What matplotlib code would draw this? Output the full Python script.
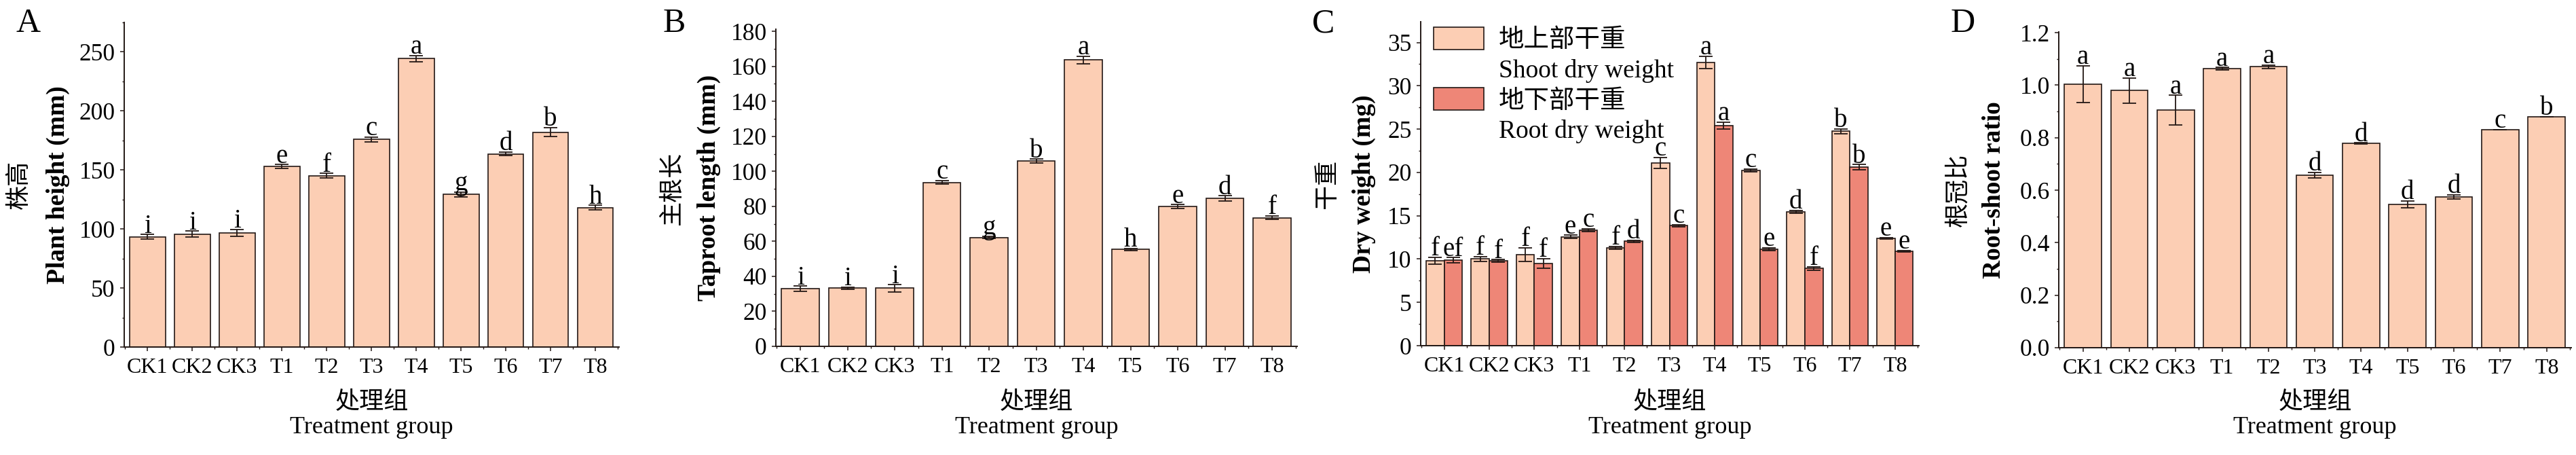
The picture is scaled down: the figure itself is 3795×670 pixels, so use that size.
import numpy as np
import matplotlib
matplotlib.use("Agg")
import matplotlib.pyplot as plt
from matplotlib.patches import Patch
from matplotlib.ticker import MultipleLocator, FixedLocator, FormatStrFormatter

plt.rcParams['font.family'] = ['Liberation Serif', 'Noto Sans CJK SC']
plt.rcParams['axes.unicode_minus'] = False

# data
groups = ['CK1', 'CK2', 'CK3', 'T1', 'T2', 'T3', 'T4', 'T5', 'T6', 'T7', 'T8']

height_mean = [93.3, 95.6, 96.8, 153.0, 145.0, 175.9, 244.3, 129.2, 163.6, 181.9, 118.0]
height_err = [2.0, 2.5, 3.0, 1.5, 2.0, 2.0, 2.7, 2.0, 1.5, 3.8, 2.0]
height_sig = ['i', 'i', 'i', 'e', 'f', 'c', 'a', 'g', 'd', 'b', 'h']

taproot_mean = [32.9, 33.2, 33.2, 93.6, 62.2, 105.9, 163.6, 55.3, 79.9, 84.5, 73.4]
taproot_err = [1.5, 0.7, 2.0, 1.0, 0.7, 1.0, 2.0, 0.5, 1.0, 1.5, 1.0]
taproot_sig = ['i', 'i', 'i', 'c', 'g', 'b', 'a', 'h', 'e', 'd', 'f']

shoot_mean = [9.8, 10.0, 10.5, 12.55, 11.28, 21.1, 32.7, 20.25, 15.46, 24.75, 12.4]
shoot_err = [0.4, 0.29, 0.81, 0.2, 0.16, 0.6, 0.7, 0.15, 0.15, 0.3, 0.1]
shoot_sig = ['f', 'f', 'f', 'e', 'f', 'c', 'a', 'c', 'd', 'b', 'e']
root_mean = [9.87, 9.77, 9.5, 13.35, 12.04, 13.84, 25.4, 11.13, 8.92, 20.6, 10.9]
root_err = [0.3, 0.16, 0.55, 0.15, 0.13, 0.13, 0.4, 0.15, 0.2, 0.3, 0.1]
root_sig = ['ef', 'f', 'f', 'c', 'd', 'c', 'a', 'e', 'f', 'b', 'e']

ratio_mean = [1.004, 0.980, 0.904, 1.063, 1.070, 0.657, 0.778, 0.546, 0.574, 0.830, 0.880]
ratio_err = [0.07, 0.048, 0.057, 0.004, 0.006, 0.011, 0.002, 0.013, 0.008, 0.0, 0.0]
ratio_sig = ['a', 'a', 'a', 'a', 'a', 'd', 'd', 'd', 'd', 'c', 'b']

LIGHT = '#FCCEB4'
DARK = '#EE8677'
INK = '#231815'

W, H = 3795, 670
fig = plt.figure(figsize=(W / 100, H / 100), dpi=100)


def make_axes(left, top, right, bottom):
    return fig.add_axes([left / W, (H - bottom) / H, (right - left) / W, (bottom - top) / H])


def style(ax, box, ymax, major, minor, cn, en, cn_x, en_x, letter):
    left, top, right, bottom = box
    ax.set_xlim(-0.52, 10.53)
    ax.set_ylim(0, ymax)
    ax.set_xticks(np.arange(len(groups)))
    ax.set_xticklabels(groups, fontsize=23)
    ax.xaxis.set_minor_locator(FixedLocator(np.arange(-0.5, len(groups), 1.0)))
    ax.yaxis.set_major_locator(MultipleLocator(major))
    ax.yaxis.set_minor_locator(MultipleLocator(minor))
    for s in ['top', 'right']:
        ax.spines[s].set_visible(False)
    for s in ['left', 'bottom']:
        ax.spines[s].set_linewidth(1.4)
        ax.spines[s].set_color(INK)
    ax.tick_params(axis='both', which='major', direction='out', length=4.5, width=1.1,
                   color=INK, pad=5)
    ax.tick_params(axis='both', which='minor', direction='out', length=2.5, width=1.0,
                   color=INK)
    ax.tick_params(axis='y', labelsize=25.5)
    ax.tick_params(axis='x', pad=7)
    wpx = right - left
    ax.set_ylabel(en, fontsize=27, fontweight='bold', va='center')
    ax.yaxis.set_label_coords((en_x - left) / wpx, 0.5)
    ax.text((cn_x - left) / wpx, 0.5, cn, transform=ax.transAxes, rotation=90,
            ha='center', va='center', fontsize=26)
    ax.set_xlabel('处理组\nTreatment group', fontsize=26, va='top', linespacing=1.12)
    ax.xaxis.set_label_coords(0.5, (bottom - 577) / (bottom - top))
    fig.text(left_letter[letter] / W, 1 - 47 / H, letter, fontsize=36,
             ha='left', va='baseline')


def label_bars(ax, xs, means, errs, sigs):
    for x, m, e, s in zip(xs, means, errs, sigs):
        ax.annotate(s, (x, m + e), xytext=(0, 2), textcoords='offset points',
                    ha='center', va='baseline', fontsize=28)


left_letter = {'A': 23, 'B': 977, 'C': 1933, 'D': 2874}
x = np.arange(len(groups))
ekw = dict(fmt='none', ecolor=INK, elinewidth=1.3, capsize=7, capthick=1.3)

# A: plant height
box_a = (183, 33, 912, 511)
ax = make_axes(*box_a)
ax.bar(x, height_mean, 0.8, color=LIGHT, edgecolor=INK, linewidth=1.2)
ax.errorbar(x, height_mean, yerr=height_err, **ekw)
label_bars(ax, x, height_mean, height_err, height_sig)
style(ax, box_a, 275, 50, 25, '株高', 'Plant height (mm)', 29, 85, 'A')

# B: taproot length
box_b = (1143, 43, 1911, 510)
ax = make_axes(*box_b)
ax.bar(x, taproot_mean, 0.8, color=LIGHT, edgecolor=INK, linewidth=1.2)
ax.errorbar(x, taproot_mean, yerr=taproot_err, **ekw)
label_bars(ax, x, taproot_mean, taproot_err, taproot_sig)
style(ax, box_b, 181.2, 20, 10, '主根长', 'Taproot length (mm)', 991, 1044, 'B')

# C: dry weight
box_c = (2093, 32, 2827, 509)
ax = make_axes(*box_c)
w = 0.4
ax.bar(x - w / 2, shoot_mean, w, color=LIGHT, edgecolor=INK, linewidth=1.2)
ax.bar(x + w / 2, root_mean, w, color=DARK, edgecolor=INK, linewidth=1.2)
ax.errorbar(x - w / 2, shoot_mean, yerr=shoot_err, **ekw)
ax.errorbar(x + w / 2, root_mean, yerr=root_err, **ekw)
label_bars(ax, x - w / 2, shoot_mean, shoot_err, shoot_sig)
label_bars(ax, x + w / 2, root_mean, root_err, root_sig)
style(ax, box_c, 37.4, 5, 2.5, '干重', 'Dry weight (mg)', 1956, 2009, 'C')
handles = [Patch(facecolor=LIGHT, edgecolor=INK, linewidth=1.2),
           Patch(visible=False),
           Patch(facecolor=DARK, edgecolor=INK, linewidth=1.2),
           Patch(visible=False)]
labels = ['地上部干重', 'Shoot dry weight', '地下部干重', 'Root dry weight']
ax.legend(handles, labels, loc='upper left', frameon=False, fontsize=27,
          bbox_to_anchor=((2112 - 2093) / 734, (509 - 40) / 477),
          borderpad=0, borderaxespad=0, handlelength=1.97, handleheight=0.96,
          handletextpad=0.58, labelspacing=0.2)

# D: root-shoot ratio
box_d = (3033, 47, 3788, 512)
ax = make_axes(*box_d)
ax.bar(x, ratio_mean, 0.8, color=LIGHT, edgecolor=INK, linewidth=1.2)
ax.errorbar(x, ratio_mean, yerr=ratio_err, **ekw)
label_bars(ax, x, ratio_mean, ratio_err, ratio_sig)
style(ax, box_d, 1.2026, 0.2, 0.1, '根冠比', 'Root-shoot ratio', 2885, 2937, 'D')
ax.yaxis.set_major_formatter(FormatStrFormatter('%.1f'))

fig.savefig('out.png', dpi=100)
